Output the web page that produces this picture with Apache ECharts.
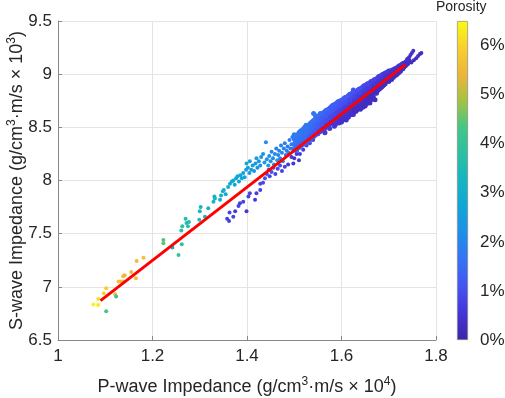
<!DOCTYPE html>
<html>
<head>
<meta charset="utf-8">
<script src="https://cdn.jsdelivr.net/npm/echarts@6/dist/echarts.min.js"></script>
<style>html,body{margin:0;padding:0;background:#fff}#c{width:505px;height:398px}</style>
</head>
<body>
<div id="c"></div>
<script>
// [P-wave impedance (x10^4), S-wave impedance (x10^3), porosity %]
const lowerTail = [
 [1.075,6.835,6.4],[1.085,6.83,6.3],[1.085,6.886,6.2],[1.097,6.94,6.0],[1.102,6.986,5.9],
 [1.102,6.77,4.3],[1.121,6.93,5.6],[1.123,6.91,4.1],[1.128,7.05,5.7],[1.134,7.05,5.6],
 [1.138,7.10,5.6],[1.141,7.11,5.5],[1.139,7.05,5.5],[1.155,7.14,5.5],[1.165,7.08,5.6],
 [1.1665,7.243,5.6],[1.181,7.274,5.7],[1.223,7.44,4.4],[1.223,7.41,4.5],[1.242,7.37,3.0],
 [1.255,7.30,4.0],[1.262,7.40,3.9],[1.261,7.53,3.8],[1.263,7.57,3.8]
];
const upperTrail = [
 [1.270,7.64,3.7],[1.272,7.60,3.7],[1.277,7.61,3.6],[1.275,7.57,3.8],[1.299,7.63,3.5],
 [1.300,7.71,3.4],[1.302,7.75,3.4],[1.311,7.66,3.4],[1.318,7.74,3.3],[1.329,7.80,3.3],
 [1.332,7.83,3.2],[1.331,7.85,3.2],[1.343,7.82,3.1],[1.345,7.86,3.1],[1.349,7.90,3.0],
 [1.351,7.91,3.0],[1.355,7.87,2.9],[1.360,7.94,3.0],[1.364,7.97,2.9],[1.368,7.99,2.9],
 [1.371,8.00,2.9],[1.374,7.96,2.8],[1.377,8.02,2.8],[1.380,8.04,2.8],[1.383,7.99,2.7],
 [1.386,8.05,2.7],[1.389,8.02,2.7],[1.392,8.07,2.6],[1.395,8.03,2.7],[1.398,8.10,2.6],
 [1.399,8.16,2.7],[1.402,8.12,2.6],[1.405,8.07,2.5],[1.406,8.18,2.6],[1.409,8.10,2.5],
 [1.412,8.14,2.5],[1.415,8.09,2.4],[1.418,8.16,2.4],[1.420,8.21,2.5],[1.422,8.12,2.3],
 [1.425,8.18,2.3],[1.428,8.14,2.3],[1.430,8.22,2.3],[1.434,8.25,2.2],[1.437,8.17,2.4],
 [1.440,8.36,2.0],[1.442,8.20,2.2],[1.445,8.14,2.5],[1.447,8.23,2.1],[1.450,8.18,2.2],
 [1.452,8.27,2.0],[1.455,8.21,2.1],[1.457,8.15,2.3],[1.459,8.25,2.0],[1.462,8.30,1.9],
 [1.464,8.19,2.2],[1.466,8.24,2.0],[1.468,8.28,1.9],[1.470,8.21,2.1],[1.472,8.33,1.9],
 [1.474,8.26,2.0],[1.476,8.18,2.2],[1.478,8.30,1.9],[1.480,8.35,1.8],[1.482,8.24,2.0],
 [1.484,8.28,1.9],[1.486,8.32,1.8],[1.488,8.26,1.9],[1.490,8.38,1.8],[1.492,8.30,1.9],
 [1.494,8.34,1.8],[1.496,8.41,1.7],[1.498,8.28,1.9]
];
const lowerPurple = [
 [1.358,7.64,0.7],[1.362,7.62,0.7],[1.363,7.70,0.8],[1.371,7.66,0.8],[1.375,7.71,0.7],
 [1.382,7.76,0.8],[1.385,7.785,0.7],[1.392,7.80,0.8],[1.399,7.71,0.6],[1.403,7.85,0.8],
 [1.406,7.88,0.8],[1.417,7.82,0.6],[1.420,7.88,0.7],[1.428,7.91,0.8],[1.428,7.97,0.9],
 [1.434,7.98,0.9],[1.438,8.02,1.0],[1.442,8.06,1.0],[1.446,8.10,1.1],[1.448,8.04,0.9],
 [1.452,8.08,1.0],[1.456,8.12,1.1],[1.460,8.06,0.8],[1.465,8.11,0.9],[1.470,8.14,1.0],
 [1.474,8.09,0.8],[1.480,8.13,0.7],[1.487,8.15,0.6],[1.494,8.22,0.6],[1.498,8.16,0.5],
 [1.500,8.21,0.5],[1.505,8.25,0.6],[1.510,8.19,0.5],[1.512,8.25,0.6],[1.519,8.29,0.6],
 [1.526,8.33,0.7],[1.533,8.35,0.7],[1.540,8.38,0.7]
];
const bandPoints = [
 [1.500,8.43,1.8],[1.500,8.39,1.8],[1.500,8.34,1.7],[1.500,8.30,1.6],
 [1.505,8.41,1.8],[1.505,8.36,1.7],[1.505,8.32,1.6],[1.505,8.28,1.5],
 [1.510,8.45,1.8],[1.510,8.40,1.7],[1.510,8.35,1.6],[1.510,8.31,1.4],
 [1.515,8.44,1.7],[1.515,8.38,1.7],[1.515,8.33,1.5],[1.515,8.47,1.8],
 [1.520,8.49,1.7],[1.520,8.43,1.6],[1.520,8.37,1.5],[1.520,8.34,1.3],
 [1.525,8.47,1.7],[1.525,8.41,1.6],[1.525,8.36,1.4],[1.525,8.52,1.8],
 [1.530,8.51,1.6],[1.530,8.45,1.6],[1.530,8.40,1.4],[1.530,8.37,1.2],
 [1.535,8.54,1.7],[1.535,8.48,1.5],[1.535,8.42,1.4],[1.535,8.39,1.1],
 [1.540,8.56,1.6],[1.540,8.50,1.5],[1.540,8.45,1.3],[1.540,8.41,1.0],[1.541,8.63,1.6],
 [1.545,8.58,1.6],[1.545,8.52,1.5],[1.545,8.47,1.3],[1.545,8.43,1.0],[1.545,8.61,1.7],
 [1.550,8.60,1.5],[1.550,8.54,1.4],[1.550,8.49,1.2],[1.550,8.44,0.9],
 [1.555,8.59,1.5],[1.555,8.55,1.4],[1.555,8.50,1.2],[1.555,8.46,0.8],[1.555,8.63,1.6],
 [1.560,8.63,1.5],[1.560,8.57,1.3],[1.560,8.52,1.1],[1.560,8.47,0.8],
 [1.565,8.65,1.4],[1.565,8.60,1.3],[1.565,8.55,1.1],[1.565,8.49,0.7],[1.565,8.45,0.6],
 [1.570,8.66,1.4],[1.570,8.61,1.3],[1.570,8.56,1.0],[1.570,8.51,0.7],
 [1.575,8.68,1.4],[1.575,8.63,1.2],[1.575,8.58,1.0],[1.575,8.53,0.7],[1.575,8.49,0.6],
 [1.580,8.70,1.3],[1.580,8.64,1.2],[1.580,8.59,0.9],[1.580,8.54,0.6],
 [1.585,8.71,1.3],[1.585,8.66,1.2],[1.585,8.61,0.9],[1.585,8.56,0.6],[1.585,8.51,0.5],
 [1.590,8.73,1.3],[1.590,8.68,1.1],[1.590,8.62,0.9],[1.590,8.57,0.6],
 [1.595,8.74,1.3],[1.595,8.69,1.1],[1.595,8.64,0.8],[1.595,8.59,0.5],[1.595,8.54,0.5],
 [1.600,8.75,1.2],[1.600,8.70,1.1],[1.600,8.65,0.8],[1.600,8.60,0.5],[1.600,8.55,0.4],
 [1.605,8.77,1.2],[1.605,8.72,1.0],[1.605,8.67,0.8],[1.605,8.62,0.5],
 [1.610,8.78,1.2],[1.610,8.73,1.0],[1.610,8.68,0.7],[1.610,8.63,0.5],[1.610,8.57,0.4],
 [1.615,8.80,1.2],[1.615,8.75,1.0],[1.615,8.70,0.7],[1.615,8.65,0.5],[1.615,8.60,0.4],
 [1.620,8.81,1.1],[1.620,8.76,0.9],[1.620,8.71,0.7],[1.620,8.66,0.4],
 [1.625,8.82,1.1],[1.625,8.78,0.9],[1.625,8.73,0.7],[1.625,8.68,0.4],[1.625,8.62,0.4],[1.625,8.85,1.1],
 [1.630,8.84,1.1],[1.630,8.79,0.9],[1.630,8.74,0.6],[1.630,8.69,0.4],[1.630,8.65,0.3],
 [1.635,8.85,1.0],[1.635,8.80,0.8],[1.635,8.76,0.6],[1.635,8.71,0.4],
 [1.640,8.86,1.0],[1.640,8.82,0.8],[1.640,8.77,0.6],[1.640,8.72,0.4],[1.640,8.67,0.3],
 [1.645,8.88,1.0],[1.645,8.83,0.8],[1.645,8.79,0.6],[1.645,8.74,0.4],[1.645,8.69,0.3],
 [1.650,8.89,0.9],[1.650,8.85,0.7],[1.650,8.80,0.5],[1.650,8.75,0.4],[1.650,8.70,0.3],
 [1.655,8.91,0.9],[1.655,8.86,0.7],[1.655,8.82,0.5],[1.655,8.77,0.3],
 [1.660,8.92,0.9],[1.660,8.88,0.7],[1.660,8.83,0.5],[1.660,8.78,0.3],[1.660,8.73,0.3],
 [1.665,8.93,0.8],[1.665,8.89,0.7],[1.665,8.85,0.5],[1.665,8.80,0.3],
 [1.670,8.95,0.8],[1.670,8.91,0.6],[1.670,8.86,0.4],[1.670,8.82,0.3],[1.671,8.76,0.3],
 [1.675,8.96,0.8],[1.675,8.92,0.6],[1.675,8.88,0.4],[1.675,8.84,0.3],[1.674,8.82,0.4],
 [1.680,8.98,0.7],[1.680,8.94,0.6],[1.680,8.90,0.4],[1.680,8.86,0.3],
 [1.685,8.99,0.7],[1.685,8.95,0.5],[1.685,8.91,0.4],[1.685,8.88,0.3],
 [1.690,9.00,0.7],[1.690,8.97,0.5],[1.690,8.93,0.4],[1.690,8.90,0.3],
 [1.695,9.01,0.6],[1.695,8.98,0.5],[1.695,8.95,0.3],
 [1.700,9.03,0.6],[1.700,9.00,0.5],[1.700,8.96,0.3],[1.700,8.93,0.3],
 [1.705,9.02,0.6],[1.705,8.98,0.4],[1.706,8.95,0.3],
 [1.710,9.04,0.5],[1.710,9.00,0.4],[1.710,8.97,0.3],
 [1.715,9.05,0.5],[1.715,9.02,0.4],[1.715,8.99,0.3],
 [1.720,9.07,0.5],[1.720,9.04,0.4],[1.720,9.01,0.3],
 [1.725,9.08,0.5],[1.725,9.05,0.4],[1.725,9.03,0.3],
 [1.730,9.10,0.5],[1.730,9.07,0.4],[1.730,9.05,0.3],
 [1.735,9.11,0.4],[1.735,9.08,0.3],[1.740,9.14,0.4],[1.740,9.10,0.3]
];
const bandFill = [
 [1.5025,8.41,1.8],[1.5025,8.37,1.7],[1.5025,8.32,1.6],
 [1.5075,8.43,1.8],[1.5075,8.38,1.7],[1.5075,8.33,1.5],
 [1.5125,8.46,1.7],[1.5125,8.42,1.7],[1.5125,8.37,1.5],[1.5125,8.32,1.3],
 [1.5175,8.45,1.7],[1.5175,8.40,1.6],[1.5175,8.35,1.4],
 [1.5225,8.50,1.7],[1.5225,8.45,1.6],[1.5225,8.40,1.5],[1.5225,8.35,1.3],
 [1.5275,8.49,1.7],[1.5275,8.44,1.6],[1.5275,8.38,1.4],
 [1.5325,8.53,1.6],[1.5325,8.47,1.5],[1.5325,8.42,1.3],[1.5325,8.38,1.1],
 [1.5375,8.55,1.6],[1.5375,8.50,1.5],[1.5375,8.44,1.3],
 [1.5425,8.57,1.6],[1.5425,8.52,1.4],[1.5425,8.46,1.2],[1.5425,8.42,1.0],
 [1.5475,8.59,1.5],[1.5475,8.54,1.4],[1.5475,8.48,1.2],
 [1.5525,8.61,1.5],[1.5525,8.56,1.4],[1.5525,8.51,1.2],[1.5525,8.46,0.8],
 [1.5575,8.62,1.5],[1.5575,8.58,1.3],[1.5575,8.53,1.1],[1.5575,8.48,0.8],
 [1.5625,8.64,1.4],[1.5625,8.59,1.3],[1.5625,8.54,1.1],[1.5625,8.49,0.7],
 [1.5675,8.66,1.4],[1.5675,8.62,1.3],[1.5675,8.57,1.0],[1.5675,8.52,0.7],
 [1.5725,8.67,1.4],[1.5725,8.62,1.2],[1.5725,8.57,1.0],[1.5725,8.52,0.6],
 [1.5775,8.69,1.3],[1.5775,8.65,1.2],[1.5775,8.60,0.9],[1.5775,8.55,0.6],
 [1.5825,8.71,1.3],[1.5825,8.66,1.2],[1.5825,8.60,0.9],[1.5825,8.55,0.6],
 [1.5875,8.72,1.3],[1.5875,8.67,1.1],[1.5875,8.63,0.9],[1.5875,8.58,0.6],[1.5875,8.53,0.5],
 [1.5925,8.74,1.3],[1.5925,8.69,1.1],[1.5925,8.64,0.8],[1.5925,8.59,0.5],
 [1.5975,8.75,1.2],[1.5975,8.71,1.1],[1.5975,8.66,0.8],[1.5975,8.61,0.5],[1.5975,8.56,0.4],
 [1.6025,8.76,1.2],[1.6025,8.71,1.0],[1.6025,8.66,0.8],[1.6025,8.61,0.5],[1.6025,8.57,0.4],
 [1.6075,8.78,1.2],[1.6075,8.73,1.0],[1.6075,8.69,0.7],[1.6075,8.64,0.5],[1.6075,8.59,0.4],
 [1.6125,8.79,1.2],[1.6125,8.74,1.0],[1.6125,8.69,0.7],[1.6125,8.64,0.5],[1.6125,8.59,0.4],
 [1.6175,8.81,1.1],[1.6175,8.76,0.9],[1.6175,8.72,0.7],[1.6175,8.67,0.4],[1.6175,8.62,0.4],
 [1.6225,8.82,1.1],[1.6225,8.77,0.9],[1.6225,8.72,0.7],[1.6225,8.67,0.4],[1.6225,8.62,0.4],
 [1.6275,8.83,1.1],[1.6275,8.79,0.9],[1.6275,8.75,0.6],[1.6275,8.70,0.4],[1.6275,8.66,0.3],
 [1.6325,8.84,1.0],[1.6325,8.80,0.8],[1.6325,8.75,0.6],[1.6325,8.70,0.4],[1.6325,8.66,0.3],
 [1.6375,8.86,1.0],[1.6375,8.81,0.8],[1.6375,8.78,0.6],[1.6375,8.73,0.4],[1.6375,8.69,0.3],
 [1.6425,8.87,1.0],[1.6425,8.83,0.8],[1.6425,8.78,0.6],[1.6425,8.73,0.4],[1.6425,8.69,0.3],
 [1.6475,8.89,0.9],[1.6475,8.84,0.7],[1.6475,8.80,0.5],[1.6475,8.76,0.4],[1.6475,8.71,0.3],
 [1.6525,8.90,0.9],[1.6525,8.86,0.7],[1.6525,8.81,0.5],[1.6525,8.76,0.3],[1.6525,8.72,0.3],
 [1.6575,8.91,0.9],[1.6575,8.87,0.7],[1.6575,8.83,0.5],[1.6575,8.79,0.3],[1.6575,8.75,0.3],
 [1.6625,8.93,0.8],[1.6625,8.88,0.7],[1.6625,8.84,0.5],[1.6625,8.80,0.3],[1.6625,8.76,0.3],
 [1.6675,8.94,0.8],[1.6675,8.90,0.6],[1.6675,8.86,0.4],[1.6675,8.82,0.3],[1.6675,8.78,0.3],
 [1.6725,8.95,0.8],[1.6725,8.91,0.6],[1.6725,8.87,0.4],[1.6725,8.84,0.3],
 [1.6775,8.97,0.7],[1.6775,8.93,0.6],[1.6775,8.89,0.4],[1.6775,8.85,0.3],
 [1.6825,8.98,0.7],[1.6825,8.94,0.5],[1.6825,8.90,0.4],[1.6825,8.87,0.3],
 [1.6875,9.00,0.7],[1.6875,8.96,0.5],[1.6875,8.92,0.4],[1.6875,8.89,0.3],
 [1.6925,9.01,0.6],[1.6925,8.97,0.5],[1.6925,8.94,0.3],[1.6925,8.91,0.3],
 [1.6975,9.02,0.6],[1.6975,8.99,0.5],[1.6975,8.95,0.3],
 [1.7025,9.03,0.6],[1.7025,8.99,0.4],[1.7025,8.96,0.3],
 [1.7075,9.04,0.5],[1.7075,9.01,0.4],[1.7075,8.97,0.3],
 [1.7125,9.05,0.5],[1.7125,9.02,0.4],[1.7125,8.99,0.3],
 [1.7175,9.06,0.5],[1.7175,9.03,0.4],[1.7175,9.00,0.3],
 [1.7225,9.08,0.5],[1.7225,9.05,0.4],[1.7225,9.02,0.3],
 [1.7275,9.09,0.5],[1.7275,9.06,0.4],
 [1.7325,9.10,0.4],[1.7325,9.07,0.3],
 [1.7375,9.12,0.4],[1.7375,9.09,0.3]
];
const armPoints = [
 [1.743,9.16,0.4],[1.746,9.18,0.4],[1.749,9.20,0.4],[1.752,9.22,0.4],[1.744,9.13,0.3],
 [1.748,9.11,0.3],[1.753,9.13,0.3],[1.758,9.15,0.3],[1.762,9.17,0.3],[1.766,9.19,0.3],[1.769,9.20,0.3]
];
const fitLine = [[1.09,6.87],[1.735,9.09]];
const xRange = [1, 1.8], xStep = 0.2;
const yRange = [6.5, 9.5], yStep = 0.5;
const porosityRange = [0, 6.5], porosityStep = 1;
const parula = ['#3E26A8','#4535D6','#4653F2','#3572F5','#1E8FE8','#0FA6D8','#14B5C3',
                '#2BBFA3','#44C686','#A6C240','#EDB53A','#F7D02C','#F9FB14'];

const FONT = "'Liberation Sans', Arial, Helvetica, sans-serif";
const chart = echarts.init(document.getElementById('c'), null, {renderer:'canvas'});
const sparsePoints = [].concat(lowerTail, upperTrail, lowerPurple, armPoints);
const densePoints = [].concat(bandPoints, bandFill);
const gradStops = parula.map((c,i)=>({offset:i/(parula.length-1), color:c}));
const rich = {
  n:{fontSize:18, fontFamily:FONT, color:'#262626', lineHeight:22},
  s:{fontSize:12, fontFamily:FONT, color:'#262626', lineHeight:12, verticalAlign:'top'}
};
chart.setOption({
  animation:false,
  grid:[
    {left:58, right:69, top:21, bottom:58, containLabel:false, outerBoundsMode:'none'},
    {left:457, width:11, top:21, bottom:58, containLabel:false, outerBoundsMode:'none'}
  ],
  xAxis:[
    {type:'value', gridIndex:0, min:xRange[0], max:xRange[1], interval:xStep,
     name:'{n|P-wave Impedance (g/cm}{s|3}{n|·m/s × 10}{s|4}{n|)}',
     nameLocation:'middle', nameGap:36, nameMoveOverlap:false, nameTextStyle:{rich:rich},
     axisLine:{onZero:false, lineStyle:{color:'#888', width:1}},
     axisTick:{inside:true, length:4, lineStyle:{color:'#888'}},
     axisLabel:{fontSize:17, fontFamily:FONT, color:'#262626', margin:8},
     splitLine:{show:true, lineStyle:{color:'#E4E4E4', width:1}}},
    {type:'category', gridIndex:1, data:['c'], show:false}
  ],
  yAxis:[
    {type:'value', gridIndex:0, min:yRange[0], max:yRange[1], interval:yStep,
     name:'{n|S-wave Impedance (g/cm}{s|3}{n|·m/s × 10}{s|3}{n|)}',
     nameLocation:'middle', nameGap:30, nameMoveOverlap:false, nameTextStyle:{rich:rich},
     axisLine:{onZero:false, lineStyle:{color:'#888', width:1}},
     axisTick:{inside:true, length:4, lineStyle:{color:'#888'}},
     axisLabel:{fontSize:17, fontFamily:FONT, color:'#262626', margin:6},
     splitLine:{show:true, lineStyle:{color:'#E4E4E4', width:1}}},
    {type:'value', gridIndex:1, position:'right', min:porosityRange[0], max:porosityRange[1], interval:porosityStep,
     axisLine:{show:false},
     axisTick:{inside:true, length:3, lineStyle:{color:'#555'}},
     axisLabel:{fontSize:17, fontFamily:FONT, color:'#262626', margin:12, showMaxLabel:false,
       formatter:v=> (Math.abs(v-Math.round(v))<1e-9 ? Math.round(v)+'%' : '')},
     splitLine:{show:false}}
  ],
  visualMap:{show:false, type:'continuous', min:porosityRange[0], max:porosityRange[1], dimension:2,
    seriesIndex:[0,1], inRange:{color:parula}},
  graphic:[{type:'text', left:436, top:0, style:{text:'Porosity', font:'14px '+FONT, fill:'#262626'}}],
  series:[
    {type:'scatter', xAxisIndex:0, yAxisIndex:0, data:sparsePoints, symbolSize:4,
     itemStyle:{opacity:1}, z:2},
    {type:'scatter', xAxisIndex:0, yAxisIndex:0, data:densePoints, symbolSize:5,
     itemStyle:{opacity:1}, z:2},
    {type:'line', xAxisIndex:0, yAxisIndex:0, data:fitLine, symbol:'none',
     lineStyle:{color:'#FF0000', width:3}, z:5},
    {type:'bar', xAxisIndex:1, yAxisIndex:1, data:[porosityRange[1]], barWidth:'100%',
     itemStyle:{color:new echarts.graphic.LinearGradient(0,1,0,0,gradStops), borderColor:'#8a8a8a', borderWidth:0.7}, z:1}
  ]
});
</script>
</body>
</html>
